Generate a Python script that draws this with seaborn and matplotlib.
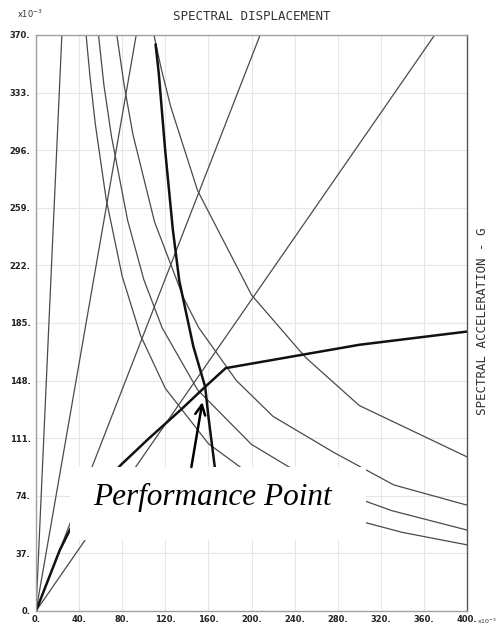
import matplotlib
matplotlib.use("Agg")
import matplotlib.pyplot as plt
import seaborn as sns
from matplotlib.patches import Rectangle

# Axis ticks (displacement and acceleration are both in units of 1e-3)
x_ticks = [0, 40, 80, 120, 160, 200, 240, 280, 320, 360, 400]
x_tick_labels = ["0.", "40.", "80.", "120.", "160.", "200.", "240.", "280.", "320.", "360.", "400."]
y_ticks = [0, 37, 74, 111, 148, 185, 222, 259, 296, 333, 370]
y_tick_labels = ["0.", "37.", "74.", "111.", "148.", "185.", "222.", "259.", "296.", "333.", "370."]

# Constant-period radial lines, given by where they leave the top of the plot
period_end_sd = [24, 93, 208, 370]
period_end_sa = [370, 370, 370, 370]

# Demand spectra for increasing damping (thin curves)
demand_a_sd = [46.5, 50, 55, 65, 80, 97, 120, 160, 210, 280, 340, 400]
demand_a_sa = [370, 344, 313, 265, 215, 177, 143, 107.5, 82, 61.5, 50.5, 42.5]
demand_b_sd = [58, 63, 70, 85, 100, 117, 150, 200, 260, 330, 400]
demand_b_sa = [370, 338, 305, 251, 213, 182, 142, 107, 82, 64.5, 52]
demand_c_sd = [75, 82, 90, 110, 137, 151, 186, 220, 276, 332, 400]
demand_c_sa = [370, 337, 306, 250, 201, 182, 148, 125, 102, 81, 68]
demand_d_sd = [109.5, 116, 125, 150, 200, 250, 300, 400]
demand_d_sa = [370, 349, 324, 270, 203, 163, 132, 99]

# Single demand spectrum (variable damping)
single_sd = [111, 114, 120, 127, 133, 146, 157, 160, 166, 170]
single_sa = [364, 345, 295, 245, 212, 170, 144, 125, 92, 70]

# Capacity spectrum
capacity_sd = [0, 22, 35, 50, 79, 105, 134, 157, 176, 300, 400]
capacity_sa = [0, 39, 57, 72, 94, 111, 129, 144, 156, 171, 179.5]

# Performance point callout: arrow from label box to the intersection
arrow_tail = (144.2, 92.5)
arrow_tip = (154.4, 134.2)
label_pos = (164, 68)
label_box = (31.6, 45.6, 306, 92.5)

sns.set_theme(style="white")
plt.rcParams["font.family"] = ["DejaVu Sans"]

fig = plt.figure(figsize=(4.98, 6.30), dpi=100)
ax = fig.add_axes([36 / 498, 1 - 611 / 630, (467 - 36) / 498, (611 - 35) / 630])

thin = dict(color="#4a4a4a", linewidth=0.9, estimator=None, legend=False)
thick = dict(color="#111111", linewidth=1.8, estimator=None, legend=False)

for sd, sa in zip(period_end_sd, period_end_sa):
    sns.lineplot(x=[0, sd], y=[0, sa], ax=ax, **thin)

for sd, sa in [(demand_a_sd, demand_a_sa), (demand_b_sd, demand_b_sa),
               (demand_c_sd, demand_c_sa), (demand_d_sd, demand_d_sa)]:
    sns.lineplot(x=sd, y=sa, ax=ax, **thin)

sns.lineplot(x=single_sd, y=single_sa, ax=ax, **thick)
sns.lineplot(x=capacity_sd, y=capacity_sa, ax=ax, **thick)

ax.set_xlim(0, 400)
ax.set_ylim(0, 370)
ax.set_xticks(x_ticks)
ax.set_xticklabels(x_tick_labels)
ax.set_yticks(y_ticks)
ax.set_yticklabels(y_tick_labels)
ax.tick_params(axis="both", length=0, labelsize=6.0, labelcolor="#222222")
ax.tick_params(axis="x", pad=3)
ax.tick_params(axis="y", pad=4)
for lab in ax.get_xticklabels() + ax.get_yticklabels():
    lab.set_fontweight("bold")
ax.grid(True, color="#e6e6e6", linewidth=0.8)
ax.set_axisbelow(True)
for side in ["left", "bottom", "top"]:
    ax.spines[side].set_color("#a0a0a0")
    ax.spines[side].set_linewidth(1.0)
ax.spines["right"].set_color("#555555")
ax.spines["right"].set_linewidth(1.0)
ax.set_xlabel("")
ax.set_ylabel("")

# White label box with the callout text and arrow
x0, y0, x1, y1 = label_box
ax.add_patch(Rectangle((x0, y0), x1 - x0, y1 - y0, facecolor="white",
                       edgecolor="none", zorder=5))
ax.text(label_pos[0], label_pos[1], "Performance Point", ha="center",
        va="baseline", family=["Liberation Serif", "DejaVu Serif"],
        style="italic", fontsize=22.5, color="black", zorder=6)
ax.annotate("", xy=arrow_tip, xytext=arrow_tail,
            arrowprops=dict(arrowstyle="->", color="black", lw=1.8,
                            mutation_scale=18, shrinkA=0, shrinkB=0),
            zorder=6)

mono = ["DejaVu Sans Mono"]
fig.text(252 / 498, 1 - 17 / 630, "SPECTRAL DISPLACEMENT", ha="center",
         va="center", family=mono, fontsize=9, color="#333333")
fig.text(482 / 498, 1 - 321 / 630, "SPECTRAL ACCELERATION - G", ha="center",
         va="center", rotation=90, family=mono, fontsize=9, color="#333333")
fig.text(17 / 498, 1 - 14 / 630, r"x10$^{-3}$", ha="left", va="center",
         fontsize=6, color="#333333")
fig.text(477 / 498, 1 - 621 / 630, r"x10$^{-3}$", ha="left", va="center",
         fontsize=4.5, color="#333333")

fig.savefig("out.png", dpi=100)
